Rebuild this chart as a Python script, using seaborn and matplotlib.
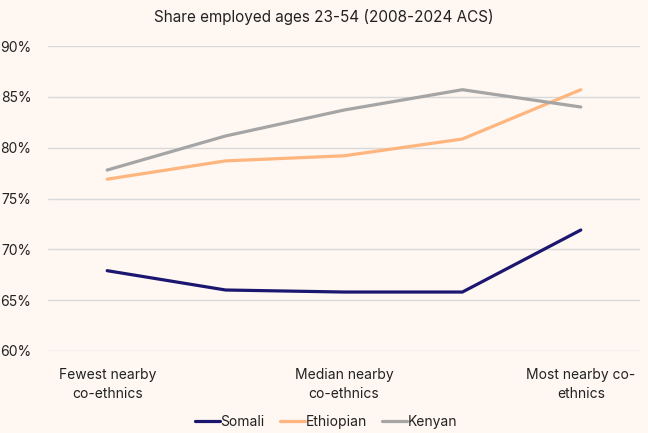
import matplotlib
matplotlib.use("Agg")
import matplotlib.pyplot as plt
import seaborn as sns
import pandas as pd

categories = ["Fewest nearby\nco-ethnics", "", "Median nearby\nco-ethnics", "", "Most nearby co-\nethnics"]
somali = [67.9, 66.0, 65.8, 65.8, 71.9]
ethiopian = [76.9, 78.7, 79.2, 80.85, 85.7]
kenyan = [77.8, 81.15, 83.7, 85.7, 84.0]
series_names = ["Somali", "Ethiopian", "Kenyan"]
colors = ["#1B1670", "#FFB67E", "#A5A5A5"]
yticks = [60, 65, 70, 75, 80, 85, 90]

rows = []
for name, vals in zip(series_names, [somali, ethiopian, kenyan]):
    for i, v in enumerate(vals):
        rows.append({"pos": i, "value": v, "series": name})
df = pd.DataFrame(rows)

sns.set_theme(style="white")
plt.rcParams["font.family"] = ["Inter", "DejaVu Sans"]
bg = "#FEF7F2"

fig = plt.figure(figsize=(6.48, 4.33), dpi=100, facecolor=bg)
ax = fig.add_axes([48/648, 1-351/433, (640-48)/648, (351-46)/433])
ax.set_facecolor(bg)

sns.lineplot(data=df, x="pos", y="value", hue="series", hue_order=series_names,
             palette=colors, linewidth=2.3, ax=ax, legend=True)

ax.set_xlim(-0.5, 4.5)
ax.set_ylim(60, 90)
ax.set_yticks(yticks)
ax.set_yticklabels([f"{t}%" for t in yticks], fontsize=10, color="#222222")
ax.set_xticks(range(len(categories)))
ax.set_xticklabels(categories, fontsize=10, color="#222222", linespacing=1.5)
ax.tick_params(axis="both", length=0)
ax.tick_params(axis="x", pad=12)
ax.tick_params(axis="y", pad=12)
ax.grid(axis="y", color="#D9D9D9", linewidth=1)
ax.set_axisbelow(True)
for s in ax.spines.values():
    s.set_visible(False)
ax.set_xlabel("")
ax.set_ylabel("")

leg = ax.legend(loc="center", bbox_to_anchor=(0.47, -0.233), ncol=3, frameon=False,
                fontsize=10, handlelength=1.8, handletextpad=0.05, columnspacing=1.1)
for t in leg.get_texts():
    t.set_color("#222222")

fig.text(0.5, 1-17/433, "Share employed ages 23-54 (2008-2024 ACS)", ha="center", va="center",
         fontsize=11, color="#222222")

fig.savefig("out.png", dpi=100, facecolor=bg)
